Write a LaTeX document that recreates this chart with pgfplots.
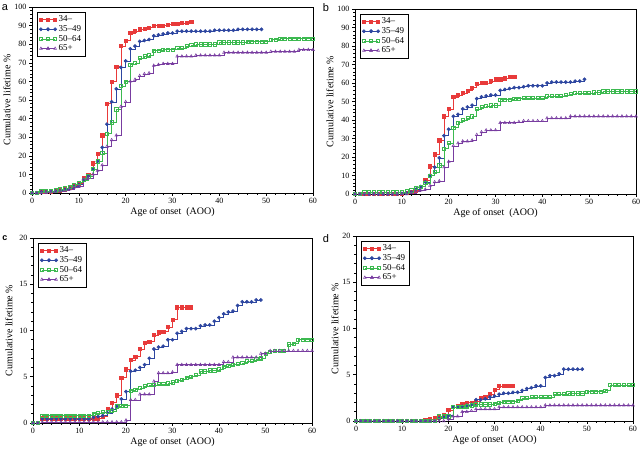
\documentclass[border=0pt]{standalone}
\usepackage{pgfplots}
\pgfplotsset{compat=1.18}
\usepackage{fontspec}
\setmainfont{Liberation Serif}
\newfontfamily\sansf{Liberation Sans}
\definecolor{cred}{RGB}{232,58,58}
\definecolor{cblue}{RGB}{45,70,160}
\definecolor{cgreen}{RGB}{60,185,80}
\definecolor{cpurple}{RGB}{120,60,160}
\pgfplotsset{
  panel/.style={
    scale only axis,
    xmin=0, xmax=60, xtick={0,10,...,60}, minor x tick num=4,
    tick align=outside, xtick pos=left, ytick pos=left,
    major tick length=3pt, minor tick length=1.6pt,
    axis line style={line width=0.6pt},
    every tick/.style={line width=0.5pt,black},
    tick label style={font=\fontsize{8}{9}\selectfont},
    xticklabel style={yshift=1pt},
    yticklabel style={xshift=1pt},
    /pgf/number format/assume math mode=true,
    label style={font=\fontsize{10}{11}\selectfont},
    xlabel={Age of onset\ \ (AOO)},
    ylabel={Cumulative lifetime \%},
    xlabel style={yshift=3pt},
    ylabel style={yshift=-3pt},
    every axis plot/.append style={const plot mark left, line width=0.55pt, mark size=1.6pt},
    legend style={at={(0.018,0.975)}, anchor=north west, font=\fontsize{9}{10}\selectfont,
      draw=black, line width=0.5pt, inner sep=2pt, row sep=-1.8pt, cells={anchor=west}},
    legend cell align=left,
    legend image code/.code={\draw[#1] plot coordinates {(0cm,0cm) (0.25cm,0cm) (0.5cm,0cm)};
       \draw[#1, only marks, mark repeat=1] plot coordinates {(0.25cm,0cm)};},
  },
  sred/.style={color=cred, mark=square*, mark options={solid,fill=cred}},
  sblue/.style={color=cblue, mark=*, mark options={solid,fill=cblue}},
  sgreen/.style={color=cgreen, mark=square, mark options={solid,fill=white}},
  spurple/.style={color=cpurple, mark=triangle, mark options={solid,fill=white}},
}
\begin{document}
\begin{tikzpicture}
\useasboundingbox (0pt,0pt) rectangle (640pt,449pt);
% panel a
\begin{axis}[panel, at={(32pt,256pt)}, anchor=south west, width=281pt, height=186pt,
  ymin=0, ymax=100, ytick={0,10,...,100}, minor y tick num=4]
\addplot[sred] coordinates {(0,0)(1,0)(2,0.5)(3,0.5)(4,0.7)(5,1)(6,1.5)(7,2)(8,3)(9,4)(10,5)(11,8)(12,10)(13,16)(14,21)(15,31)(16,48)(17,60)(18,68)(19,79)(20,82)(21,86)(22,87)(23,88)(24,88.5)(25,89)(26,90)(27,90)(28,90)(29,90.5)(30,91)(31,91)(32,91.5)(33,91.5)(34,92)};
\addplot[sblue] coordinates {(0,0)(1,0)(2,0.5)(3,0.5)(4,0.7)(5,1)(6,1.2)(7,1.8)(8,2.5)(9,3.5)(10,4.5)(11,7)(12,9)(13,13)(14,17)(15,24.5)(16,37)(17,49)(18,56)(19,67.5)(20,71)(21,77.5)(22,79)(23,81.5)(24,82)(25,82.5)(26,84.5)(27,85)(28,85.5)(29,86)(30,86)(31,87)(32,87)(33,87)(34,87)(35,87)(36,87)(37,87)(38,87)(39,87.5)(40,87.5)(41,87.5)(42,87.5)(43,87.5)(44,88)(45,88)(46,88)(47,88)(48,88)(49,88)};
\addplot[sgreen] coordinates {(0,0)(1,0.3)(2,1)(3,1)(4,1)(5,1.5)(6,2)(7,2.5)(8,3.5)(9,4.5)(10,5.5)(11,7)(12,9)(13,13)(14,17)(15,21.5)(16,32)(17,38)(18,45)(19,57.5)(20,60)(21,69)(22,70)(23,72.5)(24,73.5)(25,74)(26,76.5)(27,76.5)(28,77)(29,77)(30,77)(31,78)(32,78)(33,79)(34,79.5)(35,80)(36,80)(37,80)(38,80)(39,80)(40,81)(41,81)(42,81)(43,81)(44,81)(45,81)(46,81.5)(47,81.5)(48,81.5)(49,81.5)(50,81.5)(51,82.5)(52,82.5)(53,83)(54,83)(55,83)(56,83)(57,83)(58,83)(59,83)(60,83)};
\addplot[spurple] coordinates {(0,0)(1,0)(2,0)(3,0.3)(4,0.5)(5,0.8)(6,1)(7,1.2)(8,2)(9,3)(10,3.5)(11,7.5)(12,8)(13,10)(14,12)(15,15)(16,25)(17,28.5)(18,31)(19,46.5)(20,49)(21,60)(22,61)(23,63)(24,64)(25,64.5)(26,68.5)(27,69)(28,69.5)(29,69.5)(30,69.5)(31,73.5)(32,73.5)(33,73.5)(34,73.5)(35,74)(36,74)(37,74)(38,74)(39,74)(40,74)(41,75.5)(42,75.5)(43,75.5)(44,75.5)(45,75.5)(46,75.5)(47,75.5)(48,75.5)(49,75.5)(50,75.5)(51,76)(52,76)(53,76)(54,76)(55,76)(56,76)(57,77)(58,77)(59,77)(60,77)};
\legend{34--,35--49,50--64,65+}
\end{axis}
% panel b
\begin{axis}[panel, at={(355pt,255pt)}, anchor=south west, width=281pt, height=185pt,
  ymin=0, ymax=100, ytick={0,10,...,100}, minor y tick num=4]
\addplot[sred] coordinates {(0,0)(1,0)(2,0)(3,0)(4,0)(5,0)(6,0)(7,0)(8,0)(9,0)(10,0)(11,0.5)(12,1)(13,2)(14,4)(15,7.5)(16,15)(17,21.5)(18,29)(19,42)(20,46)(21,52.5)(22,53.5)(23,54.5)(24,56)(25,57.5)(26,59.5)(27,60)(28,60)(29,61)(30,62)(31,62)(32,62.5)(33,63.5)(34,63.5)};
\addplot[sblue] coordinates {(0,0)(1,0)(2,0)(3,0)(4,0)(5,0)(6,0)(7,0)(8,0)(9,0)(10,0.3)(11,0.5)(12,1)(13,2.5)(14,4)(15,6.5)(16,10)(17,14.5)(18,19.5)(19,31.5)(20,35)(21,42)(22,43)(23,46)(24,47)(25,48)(26,51.5)(27,52.5)(28,53)(29,53.5)(30,53.5)(31,56)(32,56.5)(33,57)(34,57.5)(35,57.5)(36,58)(37,58.5)(38,58.5)(39,58.5)(40,58.5)(41,60)(42,60.5)(43,60.5)(44,60.5)(45,60.5)(46,60.5)(47,61)(48,61)(49,62)};
\addplot[sgreen] coordinates {(0,0)(1,0.3)(2,1)(3,1)(4,1)(5,1)(6,1)(7,1)(8,1)(9,1)(10,1)(11,1.5)(12,2)(13,3.5)(14,4)(15,6)(16,10)(17,12)(18,15.5)(19,24.5)(20,27.5)(21,36)(22,38.5)(23,40)(24,41)(25,42)(26,46)(27,47)(28,47.5)(29,48)(30,48)(31,51)(32,51)(33,51)(34,51.5)(35,51.5)(36,52)(37,52)(38,52)(39,52)(40,52)(41,53)(42,53)(43,53)(44,53)(45,53.5)(46,54)(47,54.5)(48,54.5)(49,54.5)(50,54.5)(51,55)(52,55)(53,55.5)(54,55.5)(55,55.5)(56,55.5)(57,55.5)(58,55.5)(59,55.5)(60,55.5)};
\addplot[spurple] coordinates {(0,0)(1,0)(2,0)(3,0)(4,0)(5,0)(6,0)(7,0)(8,0)(9,0)(10,0)(11,0)(12,0.5)(13,1.5)(14,2)(15,2.5)(16,4.5)(17,6.5)(18,7)(19,14.5)(20,17.5)(21,26)(22,27.5)(23,28.5)(24,28.5)(25,29)(26,32)(27,33.5)(28,34.5)(29,34.5)(30,34.5)(31,38.5)(32,38.5)(33,38.5)(34,38.5)(35,39)(36,39.5)(37,39.5)(38,39.5)(39,39.5)(40,39.5)(41,41)(42,41)(43,41)(44,41)(45,41)(46,42)(47,42)(48,42)(49,42)(50,42)(51,42)(52,42)(53,42)(54,42)(55,42)(56,42)(57,42)(58,42)(59,42)(60,42)};
\legend{34--,35--49,50--64,65+}
\end{axis}
% panel c
\begin{axis}[panel, at={(33pt,26pt)}, anchor=south west, width=279pt, height=185pt,
  ymin=0, ymax=20, ytick={0,5,...,20}, minor y tick num=4, ylabel style={yshift=3pt}]
\addplot[sred] coordinates {(0,0)(1,0)(2,0.5)(3,0.5)(4,0.5)(5,0.5)(6,0.5)(7,0.5)(8,0.5)(9,0.5)(10,0.5)(11,0.5)(12,0.5)(13,0.5)(14,0.5)(15,0.7)(16,1.5)(17,2.2)(18,3)(19,4.9)(20,5.8)(21,6.8)(22,7.2)(23,8)(24,8.7)(25,8.8)(26,9.5)(27,9.8)(28,9.9)(29,10.4)(30,11.2)(31,12.5)(32,12.5)(33,12.5)(34,12.5)};
\addplot[sblue] coordinates {(0,0)(1,0)(2,0.45)(3,0.45)(4,0.45)(5,0.45)(6,0.45)(7,0.45)(8,0.45)(9,0.45)(10,0.45)(11,0.45)(12,0.45)(13,0.6)(14,0.7)(15,0.8)(16,1.1)(17,1.5)(18,1.8)(19,2.6)(20,3.4)(21,5.6)(22,5.7)(23,6)(24,6.3)(25,7)(26,8)(27,8.2)(28,8.3)(29,9)(30,9)(31,9.7)(32,9.9)(33,10.2)(34,10.2)(35,10.2)(36,10.5)(37,10.6)(38,10.6)(39,11)(40,11.4)(41,11.8)(42,12)(43,12.1)(44,12.7)(45,13.1)(46,13.1)(47,13.1)(48,13.3)(49,13.3)};
\addplot[sgreen] coordinates {(0,0)(1,0)(2,0.8)(3,0.8)(4,0.8)(5,0.8)(6,0.8)(7,0.8)(8,0.8)(9,0.8)(10,0.8)(11,0.8)(12,0.8)(13,1)(14,1.1)(15,1.2)(16,1.2)(17,1.3)(18,1.8)(19,1.9)(20,1.9)(21,3.5)(22,3.6)(23,3.8)(24,4)(25,4.1)(26,4.1)(27,4.2)(28,4.2)(29,4.3)(30,4.4)(31,4.6)(32,4.7)(33,4.9)(34,5)(35,5.2)(36,5.6)(37,5.6)(38,5.7)(39,5.7)(40,5.8)(41,6.1)(42,6.2)(43,6.3)(44,6.4)(45,6.5)(46,6.7)(47,6.7)(48,6.9)(49,7)(50,7.5)(51,7.7)(52,7.8)(53,7.8)(54,7.8)(55,8.5)(56,8.6)(57,9)(58,9)(59,9)(60,9)};
\addplot[spurple] coordinates {(0,0)(1,0)(2,0.1)(3,0.1)(4,0.1)(5,0.1)(6,0.1)(7,0.1)(8,0.1)(9,0.1)(10,0.1)(11,0.1)(12,0.1)(13,0.1)(14,0.1)(15,0.1)(16,0.1)(17,0.1)(18,0.1)(19,0.1)(20,0.3)(21,2.5)(22,2.5)(23,3.1)(24,3.1)(25,3.1)(26,4.5)(27,5.4)(28,5.4)(29,5.4)(30,5.5)(31,6.3)(32,6.3)(33,6.3)(34,6.3)(35,6.3)(36,6.3)(37,6.3)(38,6.3)(39,6.3)(40,6.3)(41,6.6)(42,6.6)(43,7.1)(44,7.1)(45,7.1)(46,7.1)(47,7.1)(48,7.1)(49,7.5)(50,7.5)(51,7.8)(52,7.8)(53,7.8)(54,7.8)(55,7.8)(56,7.8)(57,7.8)(58,7.8)(59,7.8)(60,7.8)};
\legend{34--,35--49,50--64,65+}
\end{axis}
% panel d
\begin{axis}[panel, at={(356pt,28pt)}, anchor=south west, width=277pt, height=185pt,
  ymin=0, ymax=20, ytick={0,5,...,20}, minor y tick num=4]
\addplot[sred] coordinates {(0,0)(1,0)(2,0)(3,0)(4,0)(5,0)(6,0)(7,0)(8,0)(9,0)(10,0)(11,0)(12,0)(13,0)(14,0)(15,0.1)(16,0.2)(17,0.3)(18,0.4)(19,0.7)(20,1.2)(21,1.5)(22,1.6)(23,1.8)(24,2)(25,2)(26,2.1)(27,2.5)(28,2.6)(29,2.9)(30,3.4)(31,3.8)(32,3.8)(33,3.8)(34,3.8)};
\addplot[sblue] coordinates {(0,0)(1,0)(2,0)(3,0)(4,0)(5,0)(6,0)(7,0)(8,0)(9,0)(10,0)(11,0)(12,0)(13,0)(14,0)(15,0)(16,0)(17,0)(18,0.3)(19,0.4)(20,0.6)(21,1.5)(22,1.5)(23,1.6)(24,1.7)(25,1.8)(26,2.3)(27,2.3)(28,2.4)(29,2.6)(30,2.7)(31,2.9)(32,3)(33,3)(34,3.1)(35,3.1)(36,3.3)(37,3.5)(38,3.6)(39,3.8)(40,3.8)(41,4.7)(42,4.9)(43,4.9)(44,5.1)(45,5.6)(46,5.6)(47,5.6)(48,5.6)(49,5.6)};
\addplot[sgreen] coordinates {(0,0)(1,0)(2,0)(3,0)(4,0)(5,0)(6,0)(7,0)(8,0)(9,0)(10,0)(11,0)(12,0)(13,0)(14,0)(15,0)(16,0)(17,0)(18,0.5)(19,0.5)(20,0.5)(21,1.5)(22,1.5)(23,1.5)(24,1.6)(25,1.7)(26,1.8)(27,1.8)(28,1.8)(29,1.8)(30,1.9)(31,2)(32,2.1)(33,2.1)(34,2.1)(35,2.2)(36,2.5)(37,2.5)(38,2.6)(39,2.6)(40,2.6)(41,2.6)(42,2.6)(43,2.9)(44,2.9)(45,2.9)(46,3)(47,3)(48,3)(49,3)(50,3.2)(51,3.2)(52,3.2)(53,3.2)(54,3.3)(55,3.9)(56,3.9)(57,3.9)(58,3.9)(59,3.9)(60,3.9)};
\addplot[spurple] coordinates {(0,0)(1,0)(2,0)(3,0)(4,0)(5,0)(6,0)(7,0)(8,0)(9,0)(10,0)(11,0)(12,0)(13,0)(14,0)(15,0)(16,0)(17,0)(18,0)(19,0)(20,0.2)(21,0.5)(22,0.5)(23,1)(24,1)(25,1.1)(26,1.3)(27,1.3)(28,1.3)(29,1.3)(30,1.3)(31,1.5)(32,1.5)(33,1.5)(34,1.5)(35,1.5)(36,1.5)(37,1.5)(38,1.5)(39,1.5)(40,1.5)(41,1.7)(42,1.7)(43,1.7)(44,1.7)(45,1.7)(46,1.7)(47,1.7)(48,1.7)(49,1.7)(50,1.7)(51,1.7)(52,1.7)(53,1.7)(54,1.7)(55,1.7)(56,1.7)(57,1.7)(58,1.7)(59,1.7)(60,1.7)};
\legend{34--,35--49,50--64,65+}
\end{axis}
\node[font=\sansf\fontsize{11}{11}\selectfont, anchor=center] at (5pt,441pt) {a};
\node[font=\sansf\fontsize{11}{11}\selectfont, anchor=center] at (326pt,441pt) {b};
\node[font=\sansf\bfseries\fontsize{9}{9}\selectfont, anchor=center] at (5pt,211pt) {c};
\node[font=\sansf\fontsize{11}{11}\selectfont, anchor=center] at (326pt,210pt) {d};
\end{tikzpicture}
\end{document}
